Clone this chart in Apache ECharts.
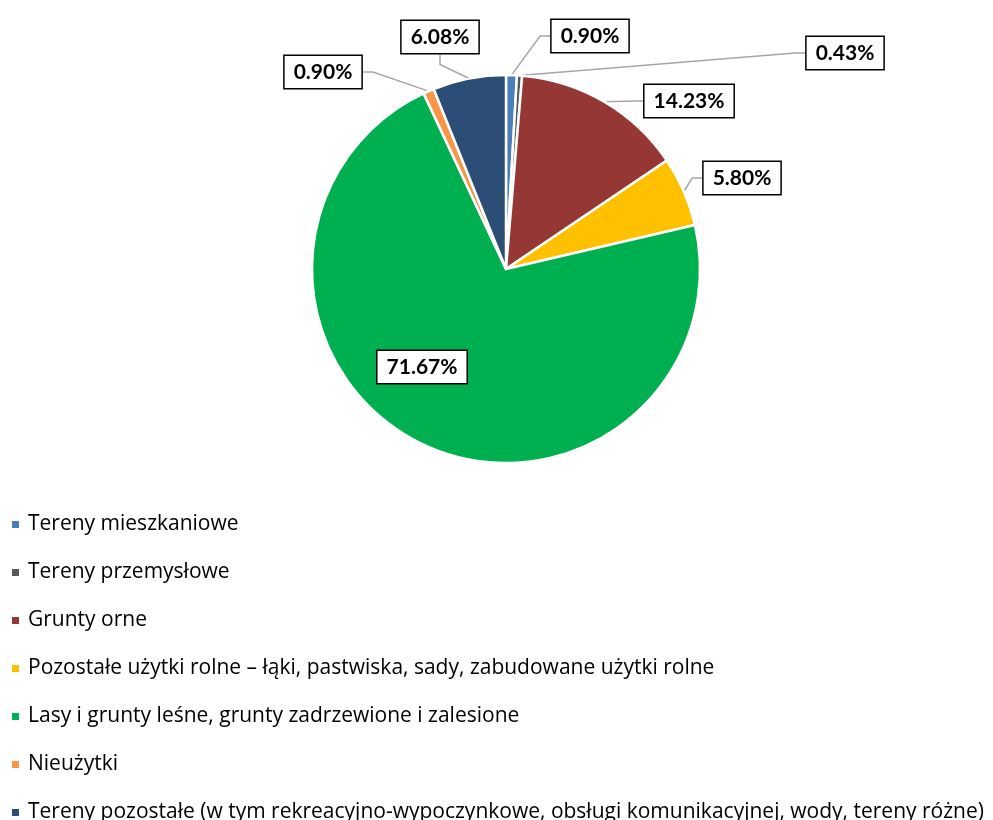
<!DOCTYPE html>
<html>
<head>
    <meta charset="utf-8">
    <title>Struktura użytkowania gruntów</title>
    <script src="https://cdn.jsdelivr.net/npm/echarts@6/dist/echarts.min.js"></script>
    <style>
        html, body { margin: 0; padding: 0; background: #fff; }
        #chart { width: 993px; height: 820px; }
    </style>
</head>
<body>
    <div id="chart"></div>
    <script type="text/javascript">
        // dane
        var categories = [
            'Tereny mieszkaniowe',
            'Tereny przemysłowe',
            'Grunty orne',
            'Pozostałe użytki rolne – łąki, pastwiska, sady, zabudowane użytki rolne',
            'Lasy i grunty leśne, grunty zadrzewione i zalesione',
            'Nieużytki',
            'Tereny pozostałe (w tym rekreacyjno-wypoczynkowe, obsługi komunikacyjnej, wody, tereny różne)'
        ];
        var values = [0.90, 0.43, 14.23, 5.80, 71.67, 0.90, 6.08];

        var colors = ['#4a7ebb', '#595959', '#953735', '#ffc000', '#00b050', '#f79646', '#2c4d75'];
        // położenie etykiet (środek ramki)
        var labelPos = [[590, 36], [845, 53], [689, 101], [742, 178], [422, 367], [323, 72], [440, 37]];

        var myChart = echarts.init(document.getElementById('chart'));

        var pieData = [];
        for (var i = 0; i < values.length; i++) {
            var item = { name: categories[i], value: values[i], itemStyle: { color: colors[i] } };
            if (i === 4) {
                item.label = { position: 'inside' };
            }
            pieData.push(item);
        }

        var option = {
            animation: false,
            legend: {
                orient: 'vertical',
                left: 5,
                top: 509,
                height: 400,
                itemWidth: 9,
                itemHeight: 9,
                itemGap: 27,
                icon: 'rect',
                textStyle: {
                    fontFamily: 'Open Sans',
                    fontSize: 21,
                    color: '#000',
                    padding: [0, 0, 0, 3]
                },
                data: categories
            },
            series: [{
                type: 'pie',
                center: [506, 269],
                radius: 194,
                startAngle: 90,
                clockwise: true,
                data: pieData,
                itemStyle: {
                    borderColor: '#fff',
                    borderWidth: 2.5
                },
                label: {
                    show: true,
                    position: 'outside',
                    formatter: function (p) { return p.value.toFixed(2) + '%'; },
                    fontFamily: 'Lato',
                    fontWeight: 'bold',
                    fontSize: 21,
                    color: '#000',
                    backgroundColor: '#fff',
                    borderColor: '#000',
                    borderWidth: 1.5,
                    padding: [6, 9, 5, 9]
                },
                labelLine: {
                    show: true,
                    length: 15,
                    length2: 10,
                    lineStyle: { color: '#a6a6a6', width: 1.5 }
                },
                labelLayout: function (params) {
                    var p = labelPos[params.dataIndex];
                    return { x: p[0], y: p[1], align: 'center', verticalAlign: 'middle' };
                },
                emphasis: { disabled: true }
            }]
        };

        myChart.setOption(option);
    </script>
</body>
</html>
